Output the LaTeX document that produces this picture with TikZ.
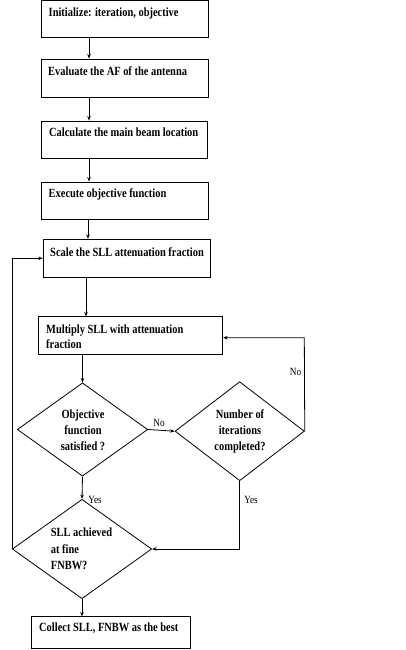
\documentclass[tikz,border=0pt]{standalone}
\usepackage{fontspec}
\setmainfont{Liberation Serif}[FakeStretch=0.835]
\usetikzlibrary{shapes.geometric,arrows.meta}
\tikzset{
  boxnode/.style={draw, line width=0.9pt, rectangle, inner sep=0pt},
  decnode/.style={draw, line width=0.8pt, diamond, inner sep=0pt},
  btxt/.style={anchor=west, inner sep=0pt, align=left, font=\fontsize{12.5}{15.5}\selectfont\bfseries},
  dtxt/.style={inner sep=0pt, align=center, font=\fontsize{12.5}{16.3}\selectfont\bfseries},
  lbl/.style={inner sep=0pt, font=\fontsize{11}{12}\selectfont},
  arr/.style={line width=0.8pt, -{Stealth[length=4.5pt,width=3.6pt]}},
  ln/.style={line width=0.8pt}
}
\begin{document}
\begin{tikzpicture}[x=1pt,y=-1pt]
\useasboundingbox (0,0) rectangle (405,650);
% boxes
\node[boxnode, minimum width=166.6pt, minimum height=36.5pt] (b1) at (125,18.75) {};
\node[boxnode, minimum width=166.6pt, minimum height=38pt] (b2) at (125,78) {};
\node[boxnode, minimum width=166pt, minimum height=37pt] (b3) at (124.7,139.5) {};
\node[boxnode, minimum width=167pt, minimum height=37.5pt] (b4) at (125.2,200.7) {};
\node[boxnode, minimum width=167.4pt, minimum height=38pt] (b5) at (127,258.3) {};
\node[boxnode, minimum width=184pt, minimum height=37.6pt] (b6) at (130.7,335.5) {};
\node[boxnode, minimum width=159pt, minimum height=31.5pt] (b7) at (111.2,632.6) {};
% box texts
\node[btxt] (t1) at (48.5,13) {Initialize: iteration, objective};
\node[btxt] (t2) at (48,71) {Evaluate the AF of the antenna};
\node[btxt] (t3) at (49,132) {Calculate the main beam location};
\node[btxt] (t4) at (48.5,194) {Execute objective function};
\node[btxt] (t5) at (50,251.7) {Scale the SLL attenuation fraction};
\node[btxt] (t6) at (46,336.7) {Multiply SLL with attenuation\\fraction};
\node[btxt] (t7) at (39,628.3) {Collect SLL, FNBW as the best};
% diamonds
\node[decnode, minimum width=130.4pt, minimum height=93.3pt] (d1) at (82.5,429.5) {};
\node[decnode, minimum width=129.3pt, minimum height=99pt] (d2) at (239.7,431.2) {};
\node[decnode, minimum width=139.4pt, minimum height=99.4pt] (d3) at (82,549) {};
\node[dtxt] (dt1) at (83,430.4) {Objective\\function\\satisfied ?};
\node[dtxt] (dt2) at (240,431.5) {Number of\\iterations\\completed?};
\node[dtxt, anchor=west, align=left] (dt3) at (50.7,549) {SLL achieved\\at fine\\FNBW?};
% helper coordinates
\coordinate (xa) at (89,0);
\coordinate (xb) at (88,0);
\coordinate (xc) at (86,0);
\coordinate (nr) at (304.3,337.7);
% connectors
\draw[arr] (b1.south -| xa) -- (b2.north -| xa);
\draw[arr] (b2.south -| xa) -- (b3.north -| xa);
\draw[arr] (b3.south -| xa) -- (b4.north -| xa);
\draw[arr] (b4.south -| xb) -- (b5.north -| xb);
\draw[arr] (b5.south -| xc) -- (b6.north -| xc);
\draw[arr] (b6.south -| d1.north) -- (d1.north);
\draw[arr] (d1.east) -- (d2.west);
\draw[arr] (d2.east) -- (nr) -- (nr -| b6.east);
\draw[arr] (d1.south) -- (d3.north);
\draw[arr] (d2.south) |- (d3.east);
\draw[arr] (d3.west) |- (b5.west);
\draw[arr] (d3.south) -- (d3.south |- b7.north);
% labels
\node[lbl] (no1) at (159,422.5) {No};
\node[lbl] (no2) at (295.5,371.7) {No};
\node[lbl] (yes1) at (95,499.5) {Yes};
\node[lbl] (yes2) at (251,499.5) {Yes};
\end{tikzpicture}
\end{document}
